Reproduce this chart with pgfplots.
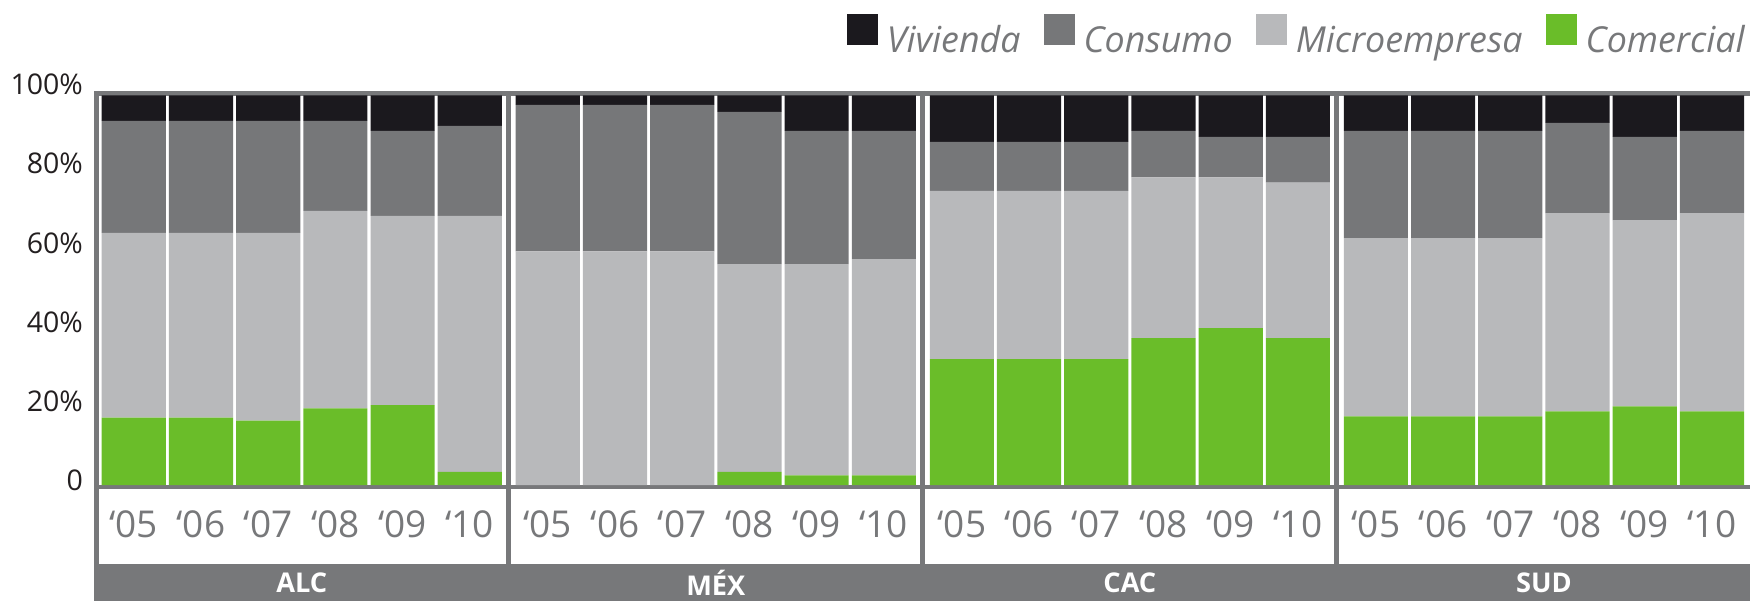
\documentclass[border=0pt]{standalone}
\usepackage{fontspec}
\setmainfont{Open Sans}
\usepackage{pgfplots}
\usepackage{pgfplotstable}
\pgfplotsset{compat=1.18}

\definecolor{viv}{HTML}{1B191E}
\definecolor{con}{HTML}{767779}
\definecolor{mic}{HTML}{B8B9BB}
\definecolor{com}{HTML}{6ABD29}
\definecolor{rim}{HTML}{77787A}
\definecolor{txt}{HTML}{231F20}

% x: posicion de la barra (6 anios por region, 4 regiones)
\pgfplotstableread{
x      com  mic  con  viv
0      17.3 47.4 28.8 6.5
1      17.3 47.4 28.8 6.5
2      16.5 48.2 28.8 6.5
3      19.7 50.7 23.1 6.5
4      20.5 48.6 21.8 9.1
5      3.4  65.7 23.1 7.8
6.161  0    60.0 37.6 2.4
7.161  0    60.0 37.6 2.4
8.161  0    60.0 37.6 2.4
9.161  3.4  53.3 39.1 4.2
10.161 2.5  54.2 34.2 9.1
11.161 2.5  55.5 32.9 9.1
12.322 32.3 43.2 12.6 11.9
13.322 32.3 43.2 12.6 11.9
14.322 32.3 43.2 12.6 11.9
15.322 37.7 41.3 11.9 9.1
16.322 40.3 38.7 10.4 10.6
17.322 37.7 39.9 11.8 10.6
18.483 17.6 45.8 27.5 9.1
19.483 17.6 45.8 27.5 9.1
20.483 17.6 45.8 27.5 9.1
21.483 18.9 50.9 23.2 7.0
22.483 20.2 47.8 21.4 10.6
23.483 18.9 50.9 21.1 9.1
}\cartera

\begin{document}
\begin{tikzpicture}
\useasboundingbox (0,0) rectangle (875pt,300pt);
\begin{axis}[
  at={(47pt,57.5pt)}, anchor=south west,
  scale only axis, width=828pt, height=200.6pt,
  xmin=-0.592, xmax=24.05, ymin=0, ymax=103,
  ybar stacked, bar width=0.955,
  axis line style={draw=none}, tick style={draw=none},
  clip=false,
  xtick=data,
  xticklabels={‘05,‘06,‘07,‘08,‘09,‘10,‘05,‘06,‘07,‘08,‘09,‘10,‘05,‘06,‘07,‘08,‘09,‘10,‘05,‘06,‘07,‘08,‘09,‘10},
  xticklabel style={anchor=center, yshift=-19.5pt, text=rim, font=\fontsize{18.5}{20}\selectfont},
  ytick={1.1,21.4,41.8,62.1,82.5,102.8},
  yticklabels={0,20\%,40\%,60\%,80\%,100\%},
  yticklabel style={anchor=east, inner sep=0pt, xshift=-5.35pt, text=txt, font=\fontsize{14.25}{16}\selectfont},
  legend columns=4,
  reverse legend,
  legend style={at={(0.997,1.176)}, anchor=north east, draw=none, fill=none, inner sep=0pt,
    font=\itshape\fontsize{17.9}{19}\selectfont,
    nodes={inner sep=0pt, text=rim},
    /tikz/every odd column/.append style={column sep=4.5pt},
    /tikz/every even column/.append style={column sep=11.5pt}},
]
\addplot[fill=com, draw=none, legend image code/.code={\fill[com] (0pt,-2pt) rectangle (15.5pt,13.5pt);}] table[x=x, y=com] {\cartera};
\addplot[fill=mic, draw=none, legend image code/.code={\fill[mic] (0pt,-2pt) rectangle (15.5pt,13.5pt);}] table[x=x, y=mic] {\cartera};
\addplot[fill=con, draw=none, legend image code/.code={\fill[con] (0pt,-2pt) rectangle (15.5pt,13.5pt);}] table[x=x, y=con] {\cartera};
\addplot[fill=viv, draw=none, legend image code/.code={\fill[viv] (0pt,-2pt) rectangle (15.5pt,13.5pt);}] table[x=x, y=viv] {\cartera};
\legend{Comercial, Microempresa, Consumo, Vivienda}

% marco gris
\draw[rim, line width=2.35pt] (axis cs:-0.592,100.56) -- (axis cs:24.05,100.56);
\draw[rim, line width=2.25pt] (axis cs:-0.592,-0.45) -- (axis cs:24.05,-0.45);
\draw[rim, line width=2.5pt] (axis cs:-0.555,101.16) -- (axis cs:-0.555,-20.2);
\draw[rim, line width=2.5pt] (axis cs:5.576,101.16) -- (axis cs:5.576,-20.2);
\draw[rim, line width=2.5pt] (axis cs:11.737,101.16) -- (axis cs:11.737,-20.2);
\draw[rim, line width=2.5pt] (axis cs:17.898,101.16) -- (axis cs:17.898,-20.2);
\coordinate (bandA) at (axis cs:-0.592,-20.2);
\coordinate (bandB) at (axis cs:24.05,-30);
\coordinate (gALC) at (axis cs:2.5,-25.1);
\coordinate (gMEX) at (axis cs:8.661,-25.1);
\coordinate (gCAC) at (axis cs:14.822,-25.1);
\coordinate (gSUD) at (axis cs:20.983,-25.1);
\end{axis}
% franja con las regiones
\fill[rim] (bandA) rectangle (bandB);
\begin{scope}[every node/.style={text=white, font=\bfseries\fontsize{13.6}{14}\selectfont}]
\node at (gALC) {ALC};
\node at (gMEX) {MÉX};
\node at (gCAC) {CAC};
\node at (gSUD) {SUD};
\end{scope}
\end{tikzpicture}
\end{document}
